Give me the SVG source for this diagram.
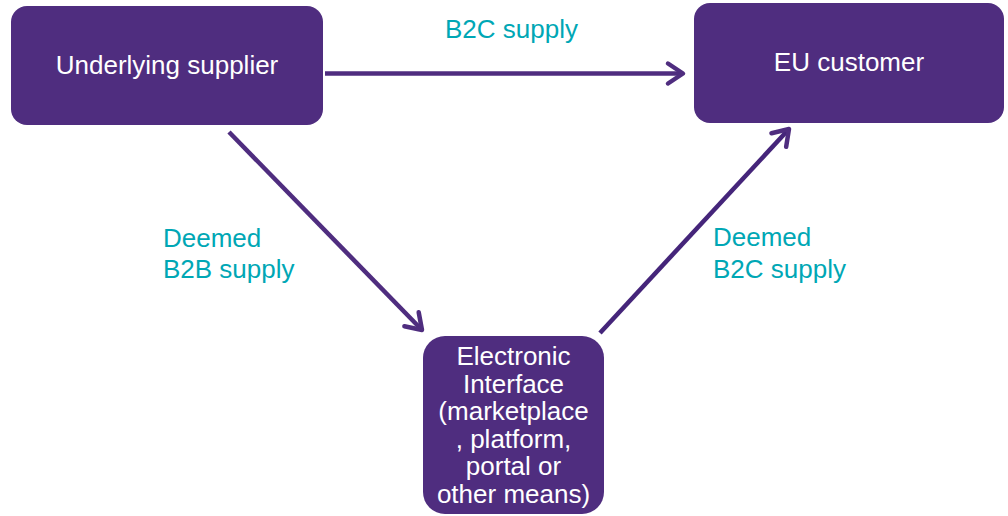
<svg xmlns="http://www.w3.org/2000/svg" width="1008" height="516" viewBox="0 0 1008 516">
  <style>
    .box { fill: #4F2D7F; }
    .nt { fill: #FFFFFF; font-family: "Liberation Sans", Arial, sans-serif; font-size: 26px; text-anchor: middle; }
    .lbl { fill: #00A7B5; font-family: "Liberation Sans", Arial, sans-serif; font-size: 26px; }
    .conn { stroke: #4F2D7F; stroke-width: 4.5; fill: none; }
  </style>
  <defs>
    <marker id="arr" markerUnits="userSpaceOnUse" markerWidth="40" markerHeight="40" viewBox="-20 -20 40 40" refX="0" refY="0" orient="auto">
      <path d="M-15,-10 L0,0 L-15,10" fill="none" stroke="#4F2D7F" stroke-width="4.5" stroke-linecap="round" stroke-linejoin="round"/>
    </marker>
  </defs>
  <rect width="1008" height="516" fill="#FFFFFF"/>
  <g id="connectors">
    <line class="conn" x1="325" y1="73.5" x2="683" y2="73.5" marker-end="url(#arr)"/>
    <line class="conn" x1="229" y1="132" x2="422" y2="330" marker-end="url(#arr)"/>
    <line class="conn" x1="600" y1="333" x2="789" y2="129" marker-end="url(#arr)" style="stroke:#45257A"/>
  </g>
  <g id="node-supplier">
    <rect class="box" x="11" y="6" width="312" height="119" rx="16"/>
    <text class="nt" x="167" y="74">Underlying supplier</text>
  </g>
  <g id="node-customer">
    <rect class="box" x="694" y="3" width="310" height="120" rx="16"/>
    <text class="nt" x="849" y="71">EU customer</text>
  </g>
  <g id="node-interface">
    <rect class="box" x="423" y="336" width="181" height="178" rx="22"/>
    <text class="nt" x="513.5" y="365">Electronic</text>
    <text class="nt" x="513.5" y="393">Interface</text>
    <text class="nt" x="513.5" y="420">(marketplace</text>
    <text class="nt" x="513.5" y="448">, platform,</text>
    <text class="nt" x="513.5" y="475">portal or</text>
    <text class="nt" x="513.5" y="503">other means)</text>
  </g>
  <g id="labels">
    <text class="lbl" x="445" y="38">B2C supply</text>
    <text class="lbl" x="163" y="247">Deemed</text>
    <text class="lbl" x="163" y="278">B2B supply</text>
    <text class="lbl" x="713" y="246">Deemed</text>
    <text class="lbl" x="713" y="278">B2C supply</text>
  </g>
</svg>
